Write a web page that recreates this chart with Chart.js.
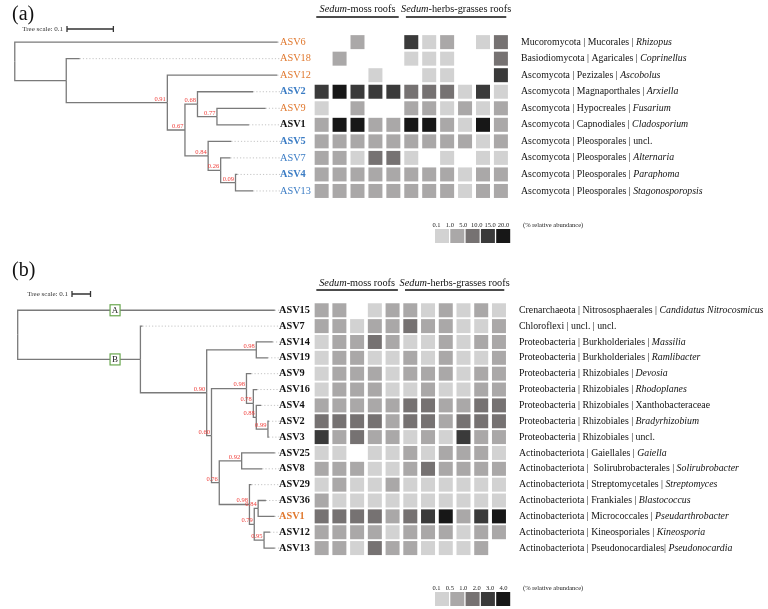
<!DOCTYPE html>
<html>
<head>
<meta charset="utf-8">
<script src="https://cdn.jsdelivr.net/npm/chart.js@4.4.1/dist/chart.umd.min.js"></script>
<style>
  html, body { margin: 0; padding: 0; background: #fff; }
  #wrap { position: relative; width: 768px; height: 609px; overflow: hidden; }
  canvas { position: absolute; left: 0; }
</style>
</head>
<body>
<div id="wrap">
  <canvas id="panelA" width="768" height="250" style="top:0"></canvas>
  <canvas id="panelB" width="768" height="359" style="top:250px"></canvas>
</div>
<script>
// --- panel (a): fungal ASVs ---
const asvA = ["ASV6", "ASV18", "ASV12", "ASV2", "ASV9", "ASV1", "ASV5", "ASV7", "ASV4", "ASV13"];
const taxA = [
  ["Mucoromycota | Mucorales | ", "Rhizopus"],
  ["Basiodiomycota | Agaricales | ", "Coprinellus"],
  ["Ascomycota | Pezizales | ", "Ascobolus"],
  ["Ascomycota | Magnaporthales | ", "Arxiella"],
  ["Ascomycota | Hypocreales | ", "Fusarium"],
  ["Ascomycota | Capnodiales | ", "Cladosporium"],
  ["Ascomycota | Pleosporales | uncl.", ""],
  ["Ascomycota | Pleosporales | ", "Alternaria"],
  ["Ascomycota | Pleosporales | ", "Paraphoma"],
  ["Ascomycota | Pleosporales | ", "Stagonosporopsis"]
];
// abundance class per sample (0 = absent, 1..5 = legend bins); 5 moss + 6 herbs-grasses roofs
const heatA = [
  [0, 0, 2, 0, 0, 4, 1, 2, 0, 1, 3],
  [0, 2, 0, 0, 0, 1, 1, 1, 0, 0, 3],
  [0, 0, 0, 1, 0, 0, 1, 1, 0, 0, 4],
  [4, 5, 4, 4, 4, 3, 3, 3, 1, 4, 1],
  [1, 0, 2, 0, 0, 2, 2, 1, 2, 1, 2],
  [2, 5, 5, 2, 2, 5, 5, 2, 1, 5, 2],
  [2, 2, 2, 2, 2, 2, 2, 2, 2, 1, 2],
  [2, 2, 1, 3, 3, 1, 0, 1, 0, 1, 1],
  [2, 2, 2, 2, 2, 2, 2, 2, 1, 2, 2],
  [2, 2, 2, 2, 2, 2, 2, 2, 1, 2, 2]
];
// [label or support, branch length, children]
const treeA = ["", 0, [
  ["ASV6", 0.567],
  ["", 0.111, [
    ["ASV18", 0.029],
    ["0.91", 0.218, [
      ["ASV12", 0.237],
      ["0.67", 0.038, [
        ["0.68", 0.027, [
          ["ASV2", 0.120],
          ["0.77", 0.042, [["ASV9", 0.105], ["ASV1", 0.069]]]
        ]],
        ["0.84", 0.050, [
          ["ASV5", 0.050],
          ["0.26", 0.027, [
            ["ASV7", 0.021],
            ["0.09", 0.032, [["ASV4", 0.004], ["ASV13", 0.038]]]
          ]]
        ]]
      ]]
    ]]
  ]]
]];
const legendA = ["0.1", "1.0", "5.0", "10.0", "15.0", "20.0"];
const groupA = ["o", "o", "o", "b", "o", "k", "b", "b", "b", "b"];
const boldA = [0, 0, 0, 1, 0, 1, 1, 0, 1, 0];

// --- panel (b): bacterial ASVs ---
const asvB = ["ASV15", "ASV7", "ASV14", "ASV19", "ASV9", "ASV16", "ASV4", "ASV2", "ASV3",
  "ASV25", "ASV8", "ASV29", "ASV36", "ASV1", "ASV12", "ASV13"];
const taxB = [
  ["Crenarchaeota | Nitrososphaerales | ", "Candidatus Nitrocosmicus"],
  ["Chloroflexi | uncl. | uncl.", ""],
  ["Proteobacteria | Burkholderiales | ", "Massilia"],
  ["Proteobacteria | Burkholderiales | ", "Ramlibacter"],
  ["Proteobacteria | Rhizobiales | ", "Devosia"],
  ["Proteobacteria | Rhizobiales | ", "Rhodoplanes"],
  ["Proteobacteria | Rhizobiales | Xanthobacteraceae", ""],
  ["Proteobacteria | Rhizobiales | ", "Bradyrhizobium"],
  ["Proteobacteria | Rhizobiales | uncl.", ""],
  ["Actinobacteriota | Gaiellales | ", "Gaiella"],
  ["Actinobacteriota |  Solirubrobacterales | ", "Solirubrobacter"],
  ["Actinobacteriota | Streptomycetales | ", "Streptomyces"],
  ["Actinobacteriota | Frankiales | ", "Blastococcus"],
  ["Actinobacteriota | Micrococcales | ", "Pseudarthrobacter"],
  ["Actinobacteriota | Kineosporiales | ", "Kineosporia"],
  ["Actinobacteriota | Pseudonocardiales| ", "Pseudonocardia"]
];
const heatB = [
  [2, 2, 0, 1, 2, 2, 1, 2, 1, 2, 1],
  [2, 2, 1, 2, 2, 3, 2, 2, 1, 1, 2],
  [1, 2, 2, 3, 2, 1, 1, 2, 1, 2, 2],
  [1, 2, 2, 1, 1, 2, 1, 2, 1, 1, 2],
  [1, 2, 2, 2, 1, 2, 2, 2, 1, 2, 2],
  [1, 2, 2, 2, 1, 1, 2, 1, 1, 2, 2],
  [2, 2, 2, 2, 2, 3, 3, 2, 2, 3, 3],
  [3, 3, 3, 3, 2, 3, 3, 2, 3, 3, 3],
  [4, 2, 3, 2, 2, 1, 2, 1, 4, 2, 2],
  [1, 1, 0, 1, 1, 2, 1, 2, 2, 2, 1],
  [2, 2, 2, 1, 1, 2, 3, 2, 2, 2, 2],
  [1, 2, 1, 1, 2, 1, 1, 1, 1, 1, 1],
  [2, 1, 1, 1, 1, 1, 1, 1, 1, 1, 1],
  [3, 3, 3, 3, 2, 3, 4, 5, 2, 4, 5],
  [2, 2, 2, 2, 1, 2, 2, 2, 1, 2, 2],
  [2, 2, 1, 3, 2, 2, 1, 1, 1, 2, 0]
];
// optional 4th entry: clade tag on the branch
const treeB = ["", 0, [
  ["ASV15", 1.389, null, "A"],
  ["", 0.663, [
    ["ASV7", 0.011],
    ["0.90", 0.358, [
      ["0.98", 0.268, [["ASV14", 0.089], ["ASV19", 0.063]]],
      ["0.60", 0.026, [
        ["0.98", 0.189, [
          ["ASV9", 0.026],
          ["0.78", 0.037, [
            ["ASV16", 0.021],
            ["0.88", 0.016, [
              ["ASV4", 0.026],
              ["0.99", 0.063, [["ASV2", 0.005], ["ASV3", 0.005]]]
            ]]
          ]]
        ]],
        ["0.76", 0.042, [
          ["0.92", 0.121, [["ASV25", 0.179], ["ASV8", 0.111]]],
          ["0.98", 0.163, [
            ["ASV29", 0.011],
            ["0.79", 0.026, [
              ["0.84", 0.021, [["ASV36", 0.042], ["ASV1", 0.089]]],
              ["0.95", 0.053, [["ASV12", 0.032], ["ASV13", 0.058]]]
            ]]
          ]]
        ]]
      ]]
    ]]
  ], "B"]
]];
const legendB = ["0.1", "0.5", "1.0", "2.0", "3.0", "4.0"];
const groupB = ["k", "k", "k", "k", "k", "k", "k", "k", "k", "k", "k", "k", "k", "o", "k", "k"];
const boldB = asvB.map(() => 1);

// --- styles ---
const shades = [null, "#d2d2d2", "#aaa8a8", "#767272", "#3a3a3a", "#171717"];
const groupColor = { o: "#e0782e", b: "#3b7cc4", k: "#111111" };
const SERIF = "'Liberation Serif', 'Times New Roman', serif";

function font(size, bold, italic) {
  return (italic ? "italic " : "") + (bold ? "bold " : "") + size + "px " + SERIF;
}

// place tips on their rows, inner nodes halfway between children
function layoutTree(spec, tips) {
  const nodes = [];
  function walk(n, parent, x0) {
    const [label, len, kids, mark] = n;
    const node = { label, x: x0 + len, parent, mark, tip: !kids };
    if (kids) {
      const ch = kids.map(k => walk(k, node, node.x));
      node.y = ch.reduce((s, c) => s + c.y, 0) / ch.length;
    } else {
      node.y = tips.indexOf(label);
    }
    nodes.push(node);
    return node;
  }
  walk(spec, null, 0);
  return nodes;
}

function drawParts(ctx, parts, x, y, size, align) {
  let w = 0;
  parts.forEach(([t, it]) => { ctx.font = font(size, false, it); w += ctx.measureText(t).width; });
  let cx = align === "center" ? x - w / 2 : x;
  ctx.textAlign = "left";
  parts.forEach(([t, it]) => {
    ctx.font = font(size, false, it);
    ctx.fillText(t, cx, y);
    cx += ctx.measureText(t).width;
  });
}

function makeTextPlugin(p, nodes) {
  return {
    id: "panelText",
    afterDatasetsDraw(chart) {
      const ctx = chart.ctx;
      const sx = chart.scales.x, sh = chart.scales.xh, sy = chart.scales.y;
      ctx.save();
      ctx.textBaseline = "middle";

      // panel tag
      ctx.fillStyle = "#111";
      ctx.font = font(20, false, false);
      ctx.textAlign = "left";
      ctx.fillText(p.tag, 12, p.tagY);

      // tree scale bar
      const barW = sx.getPixelForValue(0.1) - sx.getPixelForValue(0);
      ctx.font = font(7, false, false);
      ctx.textAlign = "right";
      ctx.fillStyle = "#333";
      ctx.fillText("Tree scale: 0.1", p.scaleX - 4, p.scaleY);
      ctx.strokeStyle = "#333";
      ctx.lineWidth = 1.3;
      ctx.beginPath();
      ctx.moveTo(p.scaleX, p.scaleY); ctx.lineTo(p.scaleX + barW, p.scaleY);
      ctx.moveTo(p.scaleX, p.scaleY - 3); ctx.lineTo(p.scaleX, p.scaleY + 3);
      ctx.moveTo(p.scaleX + barW, p.scaleY - 3); ctx.lineTo(p.scaleX + barW, p.scaleY + 3);
      ctx.stroke();

      // group headers over heatmap columns
      ctx.fillStyle = "#111";
      const groups = [[[["Sedum", true], ["-moss roofs", false]], 0, 4],
                      [[["Sedum", true], ["-herbs-grasses roofs", false]], 5, 10]];
      groups.forEach(([parts, c0, c1]) => {
        const cx = (sh.getPixelForValue(c0) + sh.getPixelForValue(c1)) / 2;
        drawParts(ctx, parts, cx, p.headY, 10.3, "center");
        ctx.strokeStyle = "#111";
        ctx.lineWidth = 1.6;
        ctx.beginPath();
        ctx.moveTo(sh.getPixelForValue(c0 - 0.3), p.lineY);
        ctx.lineTo(sh.getPixelForValue(c1 + 0.3), p.lineY);
        ctx.stroke();
      });

      // ASV names and taxonomy
      p.asv.forEach((name, i) => {
        const y = sy.getPixelForValue(i);
        ctx.font = font(10.3, !!p.bold[i], false);
        ctx.fillStyle = groupColor[p.group[i]];
        ctx.textAlign = "left";
        ctx.fillText(name, p.nameX, y);
        ctx.fillStyle = "#111";
        drawParts(ctx, [[p.taxa[i][0], false], [p.taxa[i][1], true]], p.taxX, y, 9.8, "left");
      });

      // support values and clade tags
      nodes.forEach(n => {
        if (!n.tip && n.label && n.parent) {
          ctx.font = font(6.5, false, false);
          ctx.fillStyle = "#f0403c";
          ctx.textAlign = "right";
          ctx.textBaseline = "bottom";
          ctx.fillText(n.label, sx.getPixelForValue(n.x) - 1.5, sy.getPixelForValue(n.y) - 0.5);
          ctx.textBaseline = "middle";
        }
        if (n.mark) {
          const mx = sx.getPixelForValue(p.markAt), my = sy.getPixelForValue(n.y);
          ctx.fillStyle = "#fff";
          ctx.fillRect(mx - 5, my - 5.5, 10, 11);
          ctx.strokeStyle = "#6aa84f";
          ctx.lineWidth = 1.2;
          ctx.strokeRect(mx - 5, my - 5.5, 10, 11);
          ctx.fillStyle = "#222";
          ctx.font = font(9, false, false);
          ctx.textAlign = "center";
          ctx.fillText(n.mark, mx, my + 0.5);
        }
      });

      // abundance legend
      const L = p.legendX, bw = 14, step = 15.3;
      for (let i = 0; i < 5; i++) {
        ctx.fillStyle = shades[i + 1];
        ctx.fillRect(L + i * step, p.legY, bw, 14);
      }
      ctx.font = font(6.5, false, false);
      ctx.fillStyle = "#222";
      ctx.textAlign = "center";
      p.legend.forEach((t, i) => ctx.fillText(t, L + 1.5 + i * 13.4, p.legY - 4));
      ctx.textAlign = "left";
      ctx.fillText("(% relative abundance)", L + 88, p.legY - 4);
      ctx.restore();
    }
  };
}

function buildPanel(p) {
  const W = 768, H = p.height;
  const nodes = layoutTree(p.tree, p.asv);
  const leaderEnd = (p.nameX - 2 - p.treeX0) / p.treeK;
  const datasets = [];

  // heatmap cells
  const cells = [];
  p.heat.forEach((row, r) => row.forEach((v, c) => { if (v) cells.push({ x: c, y: r, v }); }));
  datasets.push({
    data: cells, xAxisID: "xh", yAxisID: "y",
    pointStyle: "rect", pointRadius: 9.9,
    backgroundColor: cells.map(c => shades[c.v]), borderWidth: 0
  });

  // branches as elbows from parent node
  nodes.forEach(n => {
    if (!n.parent) return;
    datasets.push({
      data: [{ x: n.parent.x, y: n.parent.y }, { x: n.parent.x, y: n.y }, { x: n.x, y: n.y }],
      xAxisID: "x", yAxisID: "y", showLine: true,
      borderColor: "#7a7a7a", borderWidth: 1.3, pointRadius: 0
    });
  });

  // dotted leaders from tips to names
  nodes.filter(n => n.tip).forEach(n => {
    datasets.push({
      data: [{ x: n.x, y: n.y }, { x: leaderEnd, y: n.y }],
      xAxisID: "x", yAxisID: "y", showLine: true,
      borderColor: "#c4c4c4", borderWidth: 1, borderDash: [1.2, 2], pointRadius: 0
    });
  });

  return new Chart(document.getElementById(p.id), {
    type: "scatter",
    data: { datasets },
    options: {
      responsive: false,
      animation: false,
      events: [],
      layout: { padding: 0 },
      plugins: { legend: { display: false }, tooltip: { enabled: false } },
      scales: {
        x: { type: "linear", display: false, min: -p.treeX0 / p.treeK, max: (W - p.treeX0) / p.treeK },
        xh: { type: "linear", axis: "x", display: false, min: -p.heatX0 / p.heatStep, max: (W - p.heatX0) / p.heatStep },
        y: { type: "linear", display: false, reverse: true, min: -p.rowY0 / p.rowStep, max: (H - p.rowY0) / p.rowStep }
      }
    },
    plugins: [makeTextPlugin(p, nodes)]
  });
}

buildPanel({
  id: "panelA", height: 250, tag: "(a)", tagY: 15,
  asv: asvA, taxa: taxA, heat: heatA, tree: treeA, legend: legendA, group: groupA, bold: boldA,
  treeX0: 5, treeK: 476, rowY0: 35, rowStep: 17.96,
  heatX0: 320, heatStep: 18.4,
  nameX: 280, taxX: 521, headY: 9, lineY: 17,
  scaleX: 67, scaleY: 29, legendX: 435, legY: 229, markAt: 0.526
});

buildPanel({
  id: "panelB", height: 359, tag: "(b)", tagY: 21,
  asv: asvB, taxa: taxB, heat: heatB, tree: treeB, legend: legendB, group: groupB, bold: boldB,
  treeX0: 8, treeK: 190, rowY0: 53.3, rowStep: 16.78,
  heatX0: 320, heatStep: 18.2,
  nameX: 279, taxX: 519, headY: 33, lineY: 40,
  scaleX: 72, scaleY: 44, legendX: 435, legY: 342, markAt: 0.526
});
</script>
</body>
</html>
